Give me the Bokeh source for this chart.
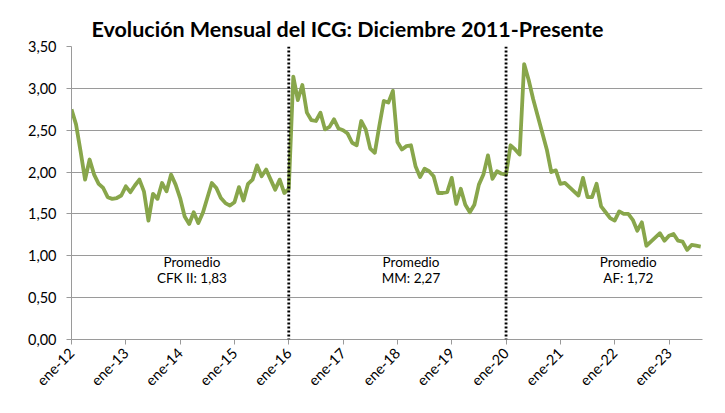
from math import pi
from bokeh.plotting import figure
from bokeh.models import ColumnDataSource, FixedTicker, CustomJSTickFormatter, Range1d, Span
from bokeh.core.properties import value
from bokeh.embed import file_html
from bokeh.resources import INLINE

# ICG mensual, dic-11 a dic-15 (CFK II)
icg_cfk = [2.75, 2.57, 2.25, 1.91, 2.15, 1.97, 1.86, 1.81, 1.70, 1.68, 1.69, 1.72,
           1.83, 1.76, 1.84, 1.91, 1.77, 1.42, 1.74, 1.68, 1.87, 1.77, 1.97, 1.85,
           1.69, 1.47, 1.38, 1.52, 1.39, 1.51, 1.69, 1.87, 1.81, 1.69, 1.63, 1.60,
           1.64, 1.82, 1.66, 1.86, 1.91, 2.08, 1.95, 2.03, 1.91, 1.79, 1.91, 1.75,
           1.80]
# ene-16 a dic-19 (MM)
icg_mm = [3.14, 2.86, 3.04, 2.71, 2.62, 2.61, 2.71, 2.51, 2.54, 2.63, 2.52, 2.50,
          2.46, 2.35, 2.32, 2.61, 2.51, 2.28, 2.23, 2.55, 2.85, 2.83, 2.97, 2.36,
          2.27, 2.31, 2.32, 2.07, 1.94, 2.04, 2.01, 1.95, 1.75, 1.75, 1.76, 1.93,
          1.62, 1.80, 1.61, 1.52, 1.61, 1.85, 1.97, 2.20, 1.92, 2.01, 1.98, 1.97]
# ene-20 en adelante (AF)
icg_af = [2.32, 2.27, 2.21, 3.29, 3.10, 2.87, 2.67, 2.47, 2.27, 2.00, 2.02, 1.86,
          1.87, 1.82, 1.77, 1.72, 1.93, 1.70, 1.70, 1.86, 1.59, 1.52, 1.45, 1.42,
          1.53, 1.50, 1.50, 1.43, 1.30, 1.40, 1.12, 1.17, 1.22, 1.27, 1.18, 1.24,
          1.26, 1.18, 1.17, 1.07, 1.13, 1.12, 1.11]

etiquetas = ["ene-12", "ene-13", "ene-14", "ene-15", "ene-16", "ene-17",
             "ene-18", "ene-19", "ene-20", "ene-21", "ene-22", "ene-23"]
promedios = ["CFK II: 1,83", "MM: 2,27", "AF: 1,72"]

icg = icg_cfk + icg_mm + icg_af
meses = list(range(len(icg)))
cambios = [len(icg_cfk) - 1, len(icg_cfk) + len(icg_mm) - 1]
ticks = [i * 12 for i in range(len(etiquetas))]

FONT = "Lato"
GRIS = "#9a9a9a"

p = figure(width=709, height=397, output_backend="svg", toolbar_location=None,
           x_range=Range1d(0, 139.4), y_range=Range1d(0, 3.5),
           min_border_left=71, min_border_right=7, min_border_top=46, min_border_bottom=56)
p.outline_line_color = None
p.background_fill_color = "white"

p.title.text = "Evolución Mensual del ICG: Diciembre 2011-Presente"
p.title.text_font = FONT
p.title.text_font_size = "21.5px"
p.title.text_font_style = "bold"
p.title.text_color = "black"
p.title.align = "left"
p.title.offset = 20

p.line(meses, icg, line_color="#88a64b", line_width=3.8, line_join="round")

for c in cambios:
    p.add_layout(Span(location=c, dimension="height", line_color="black",
                      line_width=2.8, line_dash="2 2"))

src = ColumnDataSource(dict(x=[26.6, 75, 123], t1=["Promedio"] * 3, t2=promedios))
p.text(x="x", y=0.925, text="t1", source=src, text_font=value(FONT), text_font_size="13.5px",
       text_align="center", text_baseline="middle", text_color="black")
p.text(x="x", y=0.735, text="t2", source=src, text_font=value(FONT), text_font_size="13.5px",
       text_align="center", text_baseline="middle", text_color="black")

p.xgrid.visible = False
p.ygrid.grid_line_color = GRIS
p.ygrid.ticker = FixedTicker(ticks=[0, 0.5, 1, 1.5, 2, 2.5, 3, 3.5])

p.yaxis.ticker = FixedTicker(ticks=[0, 0.5, 1, 1.5, 2, 2.5, 3, 3.5])
p.yaxis.formatter = CustomJSTickFormatter(code="return tick.toFixed(2).replace('.', ',');")
p.xaxis.ticker = FixedTicker(ticks=ticks)
p.xaxis.major_label_overrides = {t: e for t, e in zip(ticks, etiquetas)}
p.xaxis.major_label_orientation = pi / 4

for ax in (p.xaxis, p.yaxis):
    ax.axis_line_color = GRIS
    ax.major_tick_line_color = GRIS
    ax.major_tick_out = 5
    ax.major_tick_in = 0
    ax.minor_tick_line_color = None
    ax.major_label_text_font = FONT
    ax.major_label_text_font_size = "14.5px"
    ax.major_label_text_color = "black"
p.yaxis.major_label_standoff = 10
p.xaxis.major_label_standoff = 6

open("out.html", "w").write(file_html(p, INLINE))
